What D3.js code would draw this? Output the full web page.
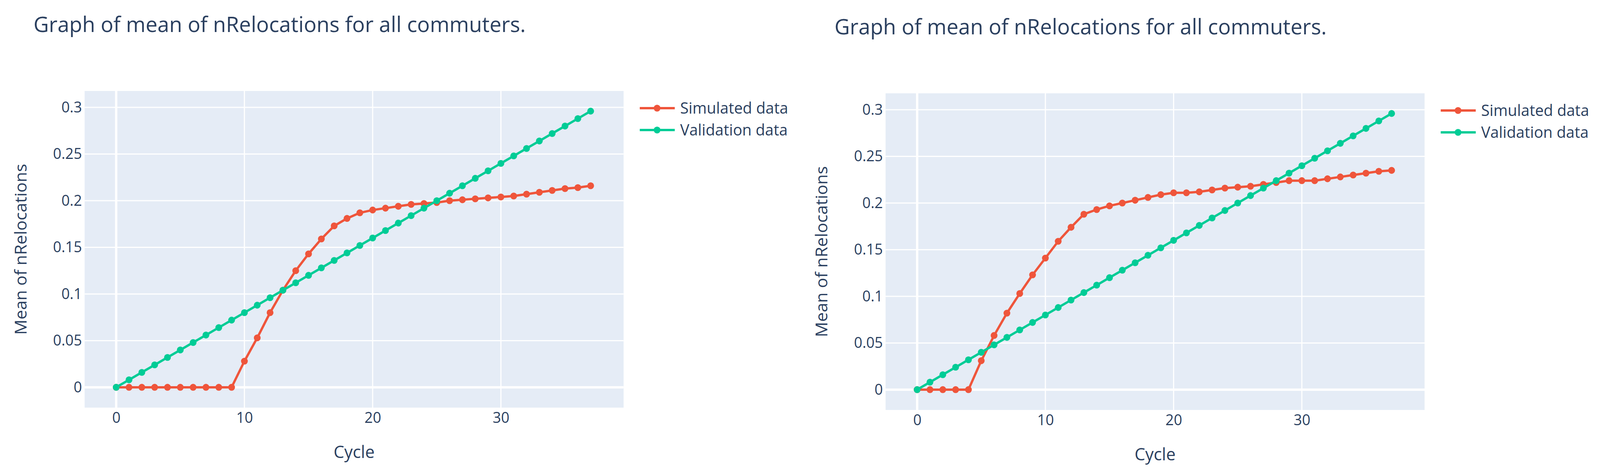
<!DOCTYPE html>
<html>
<head>
<meta charset="utf-8">
<script src="https://cdn.jsdelivr.net/npm/d3@7"></script>
<style>
html, body { margin: 0; padding: 0; background: #fff; overflow: hidden; width: 100%; height: 100%; }
svg { display: block; width: 100vw; height: 100vh; }
text { font-family: "Open Sans", sans-serif; fill: #2a3f5f; }
</style>
</head>
<body>
<script>
// cycles 0..37
var cycles = [0,1,2,3,4,5,6,7,8,9,10,11,12,13,14,15,16,17,18,19,20,21,22,23,24,25,26,27,28,29,30,31,32,33,34,35,36,37];

// left chart, simulated
var simulatedA = [0,0,0,0,0,0,0,0,0,0,
    0.028,0.053,0.080,0.104,0.125,0.143,0.159,0.173,0.181,0.187,
    0.190,0.192,0.194,0.196,0.197,0.198,0.200,0.201,0.202,0.203,
    0.204,0.205,0.207,0.209,0.211,0.213,0.214,0.216];

// right chart, simulated
var simulatedB = [0,0,0,0,0,0.031,0.058,0.082,0.103,0.123,
    0.141,0.159,0.174,0.188,0.193,0.197,0.200,0.203,0.206,0.209,
    0.211,0.211,0.212,0.214,0.216,0.217,0.218,0.220,0.222,0.224,
    0.224,0.224,0.226,0.228,0.230,0.232,0.234,0.235];

// validation (same in both)
var validation = [0,0.008,0.016,0.024,0.032,0.040,0.048,0.056,0.064,0.072,
    0.080,0.088,0.096,0.104,0.112,0.120,0.128,0.136,0.144,0.152,
    0.160,0.168,0.176,0.184,0.192,0.200,0.208,0.216,0.224,0.232,
    0.240,0.248,0.256,0.264,0.272,0.280,0.288,0.296];

var seriesNames = ["Simulated data", "Validation data"];
var yTicks = [0, 0.05, 0.1, 0.15, 0.2, 0.25, 0.3];
var yTickLabels = ["0", "0.05", "0.1", "0.15", "0.2", "0.25", "0.3"];
var xTicks = [0, 10, 20, 30];
var titleText = "Graph of mean of nRelocations for all commuters.";
var xTitle = "Cycle";
var yTitle = "Mean of nRelocations";

var width = 4159,
    height = 1214;

var colors = ["#EF553B", "#00CC96"];

// viewBox so the drawing always fills the window
var svg = d3.select("body").append("svg")
    .attr("viewBox", "0 0 " + width + " " + height)
    .attr("preserveAspectRatio", "none");

svg.append("rect")
    .attr("width", width)
    .attr("height", height)
    .attr("fill", "#fff");

function chart(sim, ox, oy) {
    var plot = {left: 220, right: 1621, top: 233, bottom: 1044};

    var g = svg.append("g")
        .attr("transform", "translate(" + ox + "," + oy + ")");

    var x = d3.scaleLinear()
        .domain([-2.46, 39.57])
        .range([plot.left, plot.right]);
    var y = d3.scaleLinear()
        .domain([-0.0218, 0.3176])
        .range([plot.bottom, plot.top]);

    g.append("text")
        .attr("x", 87)
        .attr("y", 82)
        .style("font-size", "55px")
        .text(titleText);

    g.append("rect")
        .attr("x", plot.left)
        .attr("y", plot.top)
        .attr("width", plot.right - plot.left)
        .attr("height", plot.bottom - plot.top)
        .attr("fill", "#E5ECF6");

    // grid
    g.selectAll(".gx")
        .data(xTicks)
      .enter().append("line")
        .attr("x1", function(d) { return x(d); })
        .attr("x2", function(d) { return x(d); })
        .attr("y1", plot.top)
        .attr("y2", plot.bottom)
        .attr("stroke", "#fff")
        .attr("stroke-width", function(d) { return d === 0 ? 6 : 3; });

    g.selectAll(".gy")
        .data(yTicks)
      .enter().append("line")
        .attr("x1", plot.left)
        .attr("x2", plot.right)
        .attr("y1", function(d) { return y(d); })
        .attr("y2", function(d) { return y(d); })
        .attr("stroke", "#fff")
        .attr("stroke-width", function(d) { return d === 0 ? 6 : 3; });

    // tick labels
    var yAxis = d3.axisLeft(y)
        .tickValues(yTicks)
        .tickFormat(function(d, i) { return yTickLabels[i]; })
        .tickSize(0)
        .tickPadding(7);
    var ya = g.append("g")
        .attr("transform", "translate(" + plot.left + ",0)")
        .call(yAxis);
    ya.select(".domain").remove();
    ya.selectAll("text")
        .attr("font-family", null)
        .style("font-size", "38px")
        .attr("fill", null);

    var xAxis = d3.axisBottom(x)
        .tickValues(xTicks)
        .tickSize(0)
        .tickPadding(12);
    var xa = g.append("g")
        .attr("transform", "translate(0," + plot.bottom + ")")
        .call(xAxis);
    xa.select(".domain").remove();
    xa.selectAll("text")
        .attr("font-family", null)
        .style("font-size", "38px")
        .attr("fill", null);

    g.append("text")
        .attr("x", (plot.left + plot.right) / 2)
        .attr("y", 1173)
        .attr("text-anchor", "middle")
        .style("font-size", "44px")
        .text(xTitle);

    g.append("text")
        .attr("transform", "translate(69," + (plot.top + plot.bottom) / 2 + ") rotate(-90)")
        .attr("text-anchor", "middle")
        .style("font-size", "43.5px")
        .text(yTitle);

    var line = d3.line()
        .x(function(d, i) { return x(cycles[i]); })
        .y(function(d) { return y(d); });

    var data = [sim, validation];
    data.forEach(function(vals, k) {
        g.append("path")
            .attr("d", line(vals))
            .attr("fill", "none")
            .attr("stroke", colors[k])
            .attr("stroke-width", 6)
            .attr("stroke-linejoin", "round");
        g.selectAll(".m" + k)
            .data(vals)
          .enter().append("circle")
            .attr("cx", function(d, i) { return x(cycles[i]); })
            .attr("cy", function(d) { return y(d); })
            .attr("r", 8.8)
            .attr("fill", colors[k]);
    });

    // legend
    var leg = g.selectAll(".leg")
        .data(seriesNames)
      .enter().append("g")
        .attr("transform", function(d, i) { return "translate(1663," + (277 + i * 56) + ")"; });
    leg.append("line")
        .attr("x1", 0)
        .attr("x2", 91)
        .attr("stroke", function(d, i) { return colors[i]; })
        .attr("stroke-width", 6);
    leg.append("circle")
        .attr("cx", 45)
        .attr("r", 8.8)
        .attr("fill", function(d, i) { return colors[i]; });
    leg.append("text")
        .attr("x", 105)
        .attr("dy", "0.35em")
        .style("font-size", "40px")
        .text(function(d) { return d; });
}

chart(simulatedA, 0, 0);
chart(simulatedB, 2082, 6);
</script>
</body>
</html>
